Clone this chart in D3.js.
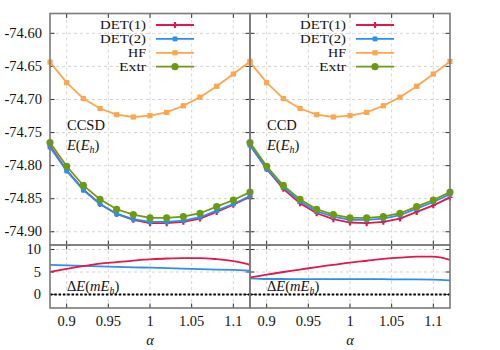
<!DOCTYPE html>
<html><head><meta charset="utf-8">
<script src="https://cdn.jsdelivr.net/npm/d3@7"></script>
<style>body{margin:0;background:#fff}svg{display:block}</style>
</head><body><svg id="c" width="500" height="350"></svg>
<script>
const alpha = [0.88,0.90,0.92,0.94,0.96,0.98,1.00,1.02,1.04,1.06,1.08,1.10,1.12];
const hf   = [-74.6435,-74.6746,-74.6986,-74.7136,-74.7230,-74.7265,-74.7245,-74.7195,-74.7095,-74.6965,-74.6800,-74.6615,-74.6425];
const extr = [-74.765,-74.801,-74.830,-74.851,-74.866,-74.874,-74.879,-74.879,-74.877,-74.872,-74.862,-74.852,-74.840];
const ccsdDet1 = [-74.770,-74.807,-74.836,-74.858,-74.873,-74.882,-74.887,-74.887,-74.885,-74.880,-74.870,-74.859,-74.847];
const ccsdDet2 = [-74.772,-74.808,-74.837,-74.858,-74.873,-74.881,-74.885,-74.885,-74.883,-74.878,-74.868,-74.858,-74.846];
const ccdDet1  = [-74.769,-74.805,-74.835,-74.857,-74.872,-74.881,-74.886,-74.887,-74.885,-74.880,-74.870,-74.860,-74.848];
const ccdDet2  = [-74.769,-74.805,-74.833,-74.854,-74.869,-74.877,-74.882,-74.882,-74.880,-74.875,-74.865,-74.855,-74.843];
const ccsdDelta1 = [5.0,5.7,6.3,6.85,7.2,7.55,7.8,8.0,8.1,8.1,7.85,7.4,6.6];
const ccsdDelta2 = [6.6,6.45,6.35,6.25,6.15,6.05,5.95,5.85,5.75,5.65,5.55,5.45,5.3];
const ccdDelta1  = [3.8,4.4,5.0,5.55,6.1,6.6,7.1,7.5,7.9,8.2,8.4,8.4,7.7];
const ccdDelta2  = [3.6,3.45,3.45,3.4,3.4,3.4,3.4,3.4,3.4,3.35,3.35,3.3,3.15];
const seriesNames = ["DET(1)","DET(2)","HF","Extr"];
const panelNames = ["CCSD","CCD"];
const xTicks = [0.9,0.95,1,1.05,1.1];
const xTickLabels = ["0.9","0.95","1","1.05","1.1"];
const eTicks = [-74.60,-74.65,-74.70,-74.75,-74.80,-74.85,-74.90];
const eTickLabels = ["-74.60","-74.65","-74.70","-74.75","-74.80","-74.85","-74.90"];
const dTicks = [0,5,10];
const dTickLabels = ["0","5","10"];

const colors = ["#e0194b","#2b8ef0","#ffa64d","#6b9b12"];
const frame = "#7a7a7a";
const svg = d3.select("#c");
const FS = 14.5;
const FONT = "'Liberation Serif', 'Times New Roman', serif";

const panels = [
  {name: panelNames[0], x0: 50, det1: ccsdDet1, det2: ccsdDet2, d1: ccsdDelta1, d2: ccsdDelta2, yLabels: true},
  {name: panelNames[1], x0: 250, det1: ccdDet1, det2: ccdDet2, d1: ccdDelta1, d2: ccdDelta2, yLabels: false}
];
const W = 200, topY0 = 13.5, topY1 = 245, botY1 = 308;

const yE = d3.scaleLinear().domain([-74.92,-74.57]).range([topY1, topY0]);
const yD = d3.scaleLinear().domain([-3,11]).range([botY1, topY1]);

function txt(g) { return g.append("text").style("font-family",FONT).attr("fill","#111"); }

function marker(g, type, x, y, c) {
  if (type === 0) {
    g.append("line").attr("x1",x).attr("x2",x).attr("y1",y-3).attr("y2",y+3).attr("stroke",c).attr("stroke-width",2.2);
    g.append("line").attr("x1",x-2.5).attr("x2",x+2.5).attr("y1",y).attr("y2",y).attr("stroke",c).attr("stroke-width",1.2);
  } else if (type === 1) {
    g.append("path").attr("transform",`translate(${x},${y})`).attr("d",d3.symbol(d3.symbolSquare, 22)()).attr("fill",c);
    g.append("path").attr("transform",`translate(${x},${y}) rotate(45)`).attr("d",d3.symbol(d3.symbolSquare, 14)()).attr("fill",c);
  } else if (type === 2) {
    g.append("rect").attr("x",x-2.6).attr("y",y-2.6).attr("width",5.2).attr("height",5.2).attr("fill",c);
  } else {
    g.append("circle").attr("cx",x).attr("cy",y).attr("r",3.6).attr("fill",c);
  }
}

function gridAndTicks(g, x, y, y0, y1, ticksY, x0) {
  const gg = g.append("g");
  xTicks.forEach(t => {
    gg.append("line").attr("x1",x(t)).attr("x2",x(t)).attr("y1",y0).attr("y2",y1)
      .attr("stroke","#c8c8c8").attr("stroke-width",0.8).attr("stroke-dasharray","3,3");
  });
  ticksY.forEach(t => {
    gg.append("line").attr("x1",x0).attr("x2",x0+W).attr("y1",y(t)).attr("y2",y(t))
      .attr("stroke","#c8c8c8").attr("stroke-width",0.8).attr("stroke-dasharray","3,3");
  });
  const tk = g.append("g").attr("stroke","#333").attr("stroke-width",1);
  xTicks.forEach(t => {
    tk.append("line").attr("x1",x(t)).attr("x2",x(t)).attr("y1",y0).attr("y2",y0+4.5);
    tk.append("line").attr("x1",x(t)).attr("x2",x(t)).attr("y1",y1).attr("y2",y1-4.5);
  });
  ticksY.forEach(t => {
    tk.append("line").attr("x1",x0).attr("x2",x0+4.5).attr("y1",y(t)).attr("y2",y(t));
    tk.append("line").attr("x1",x0+W).attr("x2",x0+W-4.5).attr("y1",y(t)).attr("y2",y(t));
  });
}

panels.forEach(p => {
  const x = d3.scaleLinear().domain([0.88,1.12]).range([p.x0, p.x0+W]);
  const g = svg.append("g");
  gridAndTicks(g, x, yE, topY0, topY1, eTicks, p.x0);
  gridAndTicks(g, x, yD, topY1, botY1, dTicks, p.x0);

  const clipId = "clip"+p.x0;
  svg.append("clipPath").attr("id",clipId).append("rect").attr("x",p.x0-6).attr("y",topY0).attr("width",W+12).attr("height",topY1-topY0);
  const top = g.append("g").attr("clip-path",`url(#${clipId})`);
  const tops = [p.det1, p.det2, hf, extr];
  const line = d3.line().x((d,i)=>x(alpha[i])).y(d=>yE(d));
  tops.forEach((s,k) => {
    top.append("path").attr("d",line(s)).attr("fill","none").attr("stroke",colors[k]).attr("stroke-width",1.8);
    s.forEach((v,i) => marker(top, k, x(alpha[i]), yE(v), colors[k]));
  });

  const clipId2 = "clipb"+p.x0;
  svg.append("clipPath").attr("id",clipId2).append("rect").attr("x",p.x0).attr("y",topY1).attr("width",W).attr("height",botY1-topY1);
  const bot = g.append("g").attr("clip-path",`url(#${clipId2})`);
  const lineD = d3.line().x((d,i)=>x(alpha[i])).y(d=>yD(d)).curve(d3.curveMonotoneX);
  bot.append("path").attr("d",lineD(p.d2)).attr("fill","none").attr("stroke",colors[1]).attr("stroke-width",1.8);
  bot.append("path").attr("d",lineD(p.d1)).attr("fill","none").attr("stroke",colors[0]).attr("stroke-width",1.8);
  bot.append("line").attr("x1",p.x0).attr("x2",p.x0+W).attr("y1",yD(0)).attr("y2",yD(0))
    .attr("stroke","#000").attr("stroke-width",1.8).attr("stroke-dasharray","2.5,1.8");

  g.append("rect").attr("x",p.x0).attr("y",topY0).attr("width",W).attr("height",topY1-topY0).attr("fill","none").attr("stroke",frame).attr("stroke-width",1.6);
  g.append("rect").attr("x",p.x0).attr("y",topY1).attr("width",W).attr("height",botY1-topY1).attr("fill","none").attr("stroke",frame).attr("stroke-width",1.6);

  xTicks.forEach((t,i) => {
    txt(g).attr("x",x(t)).attr("y",325.5).attr("text-anchor","middle").attr("font-size",FS).text(xTickLabels[i]);
  });
  if (p.yLabels) {
    eTicks.forEach((t,i) => txt(g).attr("x",42).attr("y",yE(t)+4.5).attr("text-anchor","end").attr("font-size",FS).text(eTickLabels[i]));
    dTicks.forEach((t,i) => txt(g).attr("x",41).attr("y",yD(t)+4.5).attr("text-anchor","end").attr("font-size",FS).text(dTickLabels[i]));
  }
  txt(g).attr("x",p.x0+W/2).attr("y",345).attr("text-anchor","middle").attr("font-size",FS).attr("font-style","italic").text("α");

  txt(g).attr("x",p.x0+17).attr("y",130).attr("font-size",FS).text(p.name);
  const e = txt(g).attr("x",p.x0+17).attr("y",150).attr("font-size",FS);
  e.append("tspan").attr("font-style","italic").text("E");
  e.append("tspan").text("(");
  e.append("tspan").attr("font-style","italic").text("E");
  e.append("tspan").attr("font-style","italic").attr("font-size",10).attr("dy",3).text("h");
  e.append("tspan").attr("dy",-3).text(")");
  const d = txt(g).attr("x",p.x0+17).attr("y",291).attr("font-size",FS);
  d.append("tspan").text("Δ");
  d.append("tspan").attr("font-style","italic").text("E");
  d.append("tspan").text("(");
  d.append("tspan").attr("font-style","italic").text("mE");
  d.append("tspan").attr("font-style","italic").attr("font-size",10).attr("dy",3).text("h");
  d.append("tspan").attr("dy",-3).text(")");

  const lx = p.x0 + 96, ly = 25, dy = 13.9;
  const legW = [46, 46, 18, 27];
  seriesNames.forEach((n,k) => {
    const yy = ly + k*dy;
    txt(g).attr("x",lx).attr("y",yy+4.2).attr("text-anchor","end").attr("font-size",12.2)
      .attr("textLength",legW[k]).attr("lengthAdjust","spacingAndGlyphs").text(n);
    g.append("line").attr("x1",lx+10).attr("x2",lx+48).attr("y1",yy).attr("y2",yy).attr("stroke",colors[k]).attr("stroke-width",1.8);
    marker(g, k, lx+29, yy, colors[k]);
  });
});
</script></body></html>
